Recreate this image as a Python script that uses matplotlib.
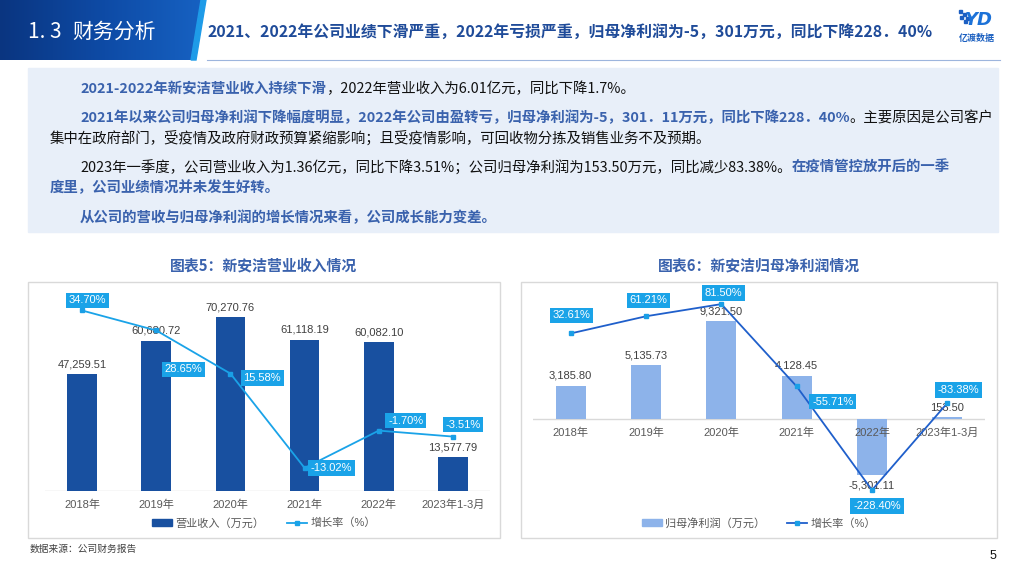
import numpy as np
import matplotlib
matplotlib.use('Agg')
import matplotlib.pyplot as plt
from matplotlib.patches import Polygon, Rectangle, Patch
from matplotlib.lines import Line2D
from matplotlib.colors import LinearSegmentedColormap

plt.rcParams['font.family'] = ['Liberation Sans', 'Noto Sans CJK SC', 'DejaVu Sans']
CJK = ['Noto Sans CJK SC', 'DejaVu Sans']

# data
cats = ['2018年', '2019年', '2020年', '2021年', '2022年', '2023年1-3月']
revenue = [47259.51, 60680.72, 70270.76, 61118.19, 60082.10, 13577.79]
rev_growth = [34.70, 28.65, 15.58, -13.02, -1.70, -3.51]
profit = [3185.80, 5135.73, 9321.50, 4128.45, -5301.11, 153.50]
profit_growth = [32.61, 61.21, 81.50, -55.71, -228.40, -83.38]

# label offsets (points) for the growth boxes
rev_off = [(3.6, 7.2), (19.4, -28), (23, -3), (19.4, 0), (19.4, 7.2), (7.2, 8.6)]
prof_off = [(0.7, 13), (2, 11.5), (1.4, 8), (26, -11), (3.6, -11.5), (8, 9.4)]

W, H = 1024, 576
fig = plt.figure(figsize=(W / 100, H / 100), dpi=100)
bg = fig.add_axes([0, 0, 1, 1])
bg.set_xlim(0, W)
bg.set_ylim(H, 0)
bg.axis('off')

# header block with gradient
cmap = LinearSegmentedColormap.from_list('hd', ['#0A3580', '#0E4BA6', '#1763C4'])
grad = np.tile(np.linspace(0, 1, 256), (40, 1))
im = bg.imshow(grad, cmap=cmap, extent=[0, 210, 60, 0], aspect='auto', zorder=1)
clip = Polygon([(0, 0), (205, 0), (195, 60), (0, 60)], closed=True, transform=bg.transData)
im.set_clip_path(clip)
bg.add_patch(Polygon([(201, 0), (206, 0), (196, 60), (191, 60)], closed=True,
                     color='#1E9BE8', zorder=2))
bg.text(28, 32, '1. 3', color='white', fontsize=15, va='center', ha='left', family=CJK, zorder=3)
bg.text(72, 32, '财务分析', color='white', fontsize=15, va='center', ha='left', family=CJK, zorder=3)
bg.text(207, 32, '2021、2022年公司业绩下滑严重，2022年亏损严重，归母净利润为-5，301万元，同比下降228．40%',
        color='#1F4B99', fontsize=11.4, fontweight='bold', va='center', ha='left', family=CJK)
bg.plot([207, 1000], [59.5, 59.5], color='#9DB5DD', lw=0.8)

# logo
for (lx, ly) in [(959, 10), (963, 13), (966, 17), (960, 16), (964, 20)]:
    bg.add_patch(Rectangle((lx, ly), 2.5, 2.5, color='#1C5FC2'))
bg.text(979, 20, 'YD', color='#1C72D8', fontsize=13, fontweight='bold', style='italic',
        ha='center', va='center', family=['DejaVu Sans'])
bg.text(977, 38, '亿渡数据', color='#1A5FC0', fontsize=6.5, fontweight='bold',
        ha='center', va='center', family=CJK)

# text box
bg.add_patch(Rectangle((28, 68), 970, 164, color='#E8EFF9', zorder=0))
B = '#3A62AD'
K = '#111111'
lines = [
    (80, 89, [('2021-2022年新安洁营业收入持续下滑', B), ('，2022年营业收入为6.01亿元，同比下降1.7%。', K)]),
    (80, 118, [('2021年以来公司归母净利润下降幅度明显，2022年公司由盈转亏，归母净利润为-5，301．11万元，同比下降228．40%', B),
               ('。主要原因是公司客户', K)]),
    (50, 138, [('集中在政府部门，受疫情及政府财政预算紧缩影响；且受疫情影响，可回收物分拣及销售业务不及预期。', K)]),
    (80, 168, [('2023年一季度，公司营业收入为1.36亿元，同比下降3.51%；公司归母净利润为153.50万元，同比减少83.38%。', K),
               ('在疫情管控放开后的一季', B)]),
    (50, 188, [('度里，公司业绩情况并未发生好转。', B)]),
    (80, 218, [('从公司的营收与归母净利润的增长情况来看，公司成长能力变差。', B)]),
]
r = fig.canvas.get_renderer()
for x0, y0, segs in lines:
    x = x0
    for s, c in segs:
        t = fig.text(x / W, 1 - y0 / H, s, fontsize=10.4, color=c,
                     fontweight='bold' if c == B else 'normal',
                     va='center', ha='left', family=CJK)
        x = t.get_window_extent(renderer=r).x1

# chart boxes and titles
bg.add_patch(Rectangle((28, 282), 472, 256, fill=False, ec='#D9D9D9', lw=1))
bg.add_patch(Rectangle((521, 282), 476, 256, fill=False, ec='#D9D9D9', lw=1))
bg.text(264, 265, '图表5：新安洁营业收入情况', color='#3A62AD', fontsize=10.7, fontweight='bold',
        ha='center', va='center', family=CJK)
bg.text(759, 265, '图表6：新安洁归母净利润情况', color='#3A62AD', fontsize=10.7, fontweight='bold',
        ha='center', va='center', family=CJK)
bg.text(30, 549, '数据来源：公司财务报告', color='#404040', fontsize=7, ha='left', va='center', family=CJK)
bg.text(993, 556, '5', color='#111111', fontsize=9, ha='center', va='center')


def chart(rect, vals, growth, offs, ylim, ylim2, bar_color, line_color):
    ax = fig.add_axes([rect[0] / W, 1 - rect[3] / H, (rect[2] - rect[0]) / W, (rect[3] - rect[1]) / H])
    ax.patch.set_alpha(0)
    x = np.arange(len(cats))
    ax.bar(x, vals, width=0.4, color=bar_color, zorder=2)
    ax.set_xlim(-0.5, len(cats) - 0.5)
    ax.set_ylim(*ylim)
    ax.axhline(0, color='#D9D9D9', lw=1, zorder=1)
    for s in ax.spines.values():
        s.set_visible(False)
    ax.set_xticks([])
    ax.set_yticks([])
    for i, v in enumerate(vals):
        ax.annotate(f'{v:,.2f}', (i, v), xytext=(0, 3.5 if v >= 0 else -4), textcoords='offset points',
                    ha='center', va='bottom' if v >= 0 else 'top', fontsize=8, color='#404040', zorder=3)
        ax.annotate(cats[i], (i, 0), xytext=(0, -6), textcoords='offset points',
                    ha='center', va='top', fontsize=8, color='#595959', zorder=3)
    ax2 = ax.twinx()
    ax2.set_ylim(*ylim2)
    ax2.axis('off')
    ax2.plot(x, growth, color=line_color, lw=1.3, marker='s', ms=3.2,
             mfc='#1A9FE6', mec='#1A9FE6', zorder=4)
    for i, g in enumerate(growth):
        ax2.annotate(f'{g:.2f}%', (i, g), xytext=offs[i], textcoords='offset points',
                     ha='center', va='center', fontsize=8, color='white', zorder=5,
                     bbox=dict(boxstyle='square,pad=0.25', fc='#1AA3E8', ec='none'))
    return ax


chart((45, 293, 490, 491), revenue, rev_growth, rev_off, (0, 80000), (-20, 40), '#1850A0', '#1AA3E8')
chart((533, 293, 985, 503), profit, profit_growth, prof_off, (-8000, 12000), (-250, 100), '#8DB3EA', '#1F5FCB')

h1 = [Patch(color='#1850A0'), Line2D([], [], color='#1AA3E8', lw=1.3, marker='s', ms=3)]
fig.legend(h1, ['营业收入（万元）', '增长率（%）'], loc='center', bbox_to_anchor=(264 / W, 1 - 523 / H),
           ncol=2, frameon=False, fontsize=8, labelcolor='#595959', handlelength=1.8, handleheight=0.5,
           columnspacing=2.0, handletextpad=0.3)
h2 = [Patch(color='#8DB3EA'), Line2D([], [], color='#1F5FCB', lw=1.3, marker='s', ms=3,
                                      mfc='#1A9FE6', mec='#1A9FE6')]
fig.legend(h2, ['归母净利润（万元）', '增长率（%）'], loc='center', bbox_to_anchor=(759 / W, 1 - 523 / H),
           ncol=2, frameon=False, fontsize=8, labelcolor='#595959', handlelength=1.8, handleheight=0.5,
           columnspacing=2.0, handletextpad=0.3)

fig.savefig('out.png', dpi=100)
